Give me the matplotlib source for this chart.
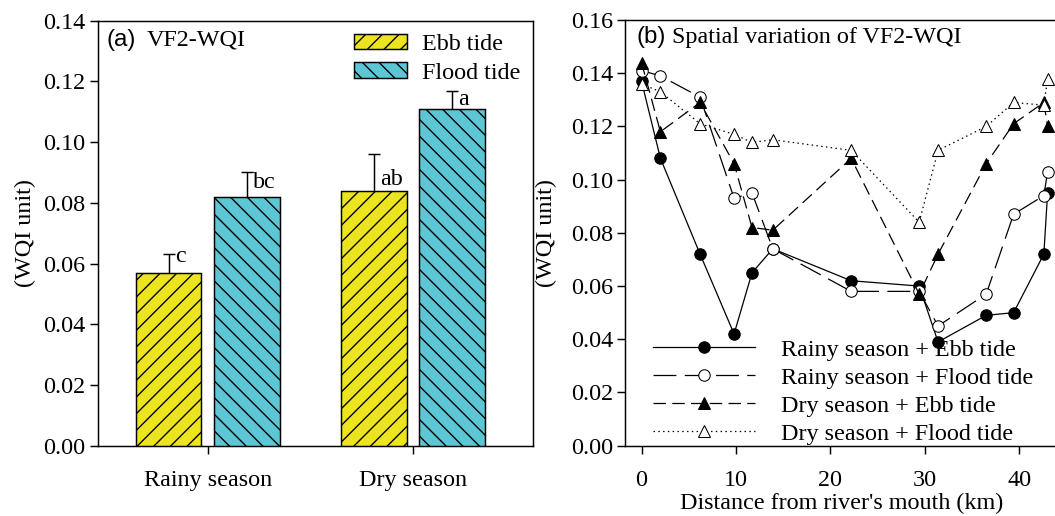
import matplotlib
matplotlib.use("Agg")
import matplotlib.pyplot as plt
from matplotlib.patches import Patch
import numpy as np

# ---------------- data ----------------
seasons = ["Rainy season", "Dry season"]
ebb_mean = [0.057, 0.084]
flood_mean = [0.082, 0.111]
ebb_err = [0.006, 0.012]
flood_err = [0.008, 0.006]
ebb_letters = ["c", "ab"]
flood_letters = ["bc", "a"]
ebb_letter_y = [0.0623, 0.0878]
flood_letter_y = [0.0866, 0.1142]

distance_km = [0, 2.0, 6.2, 9.8, 11.7, 13.9, 22.2, 29.4, 31.4, 36.5, 39.4, 42.6, 43.0]
rainy_ebb = [0.137, 0.108, 0.072, 0.042, 0.065, 0.074, 0.062, 0.060, 0.039, 0.049, 0.050, 0.072, 0.095]
rainy_flood = [0.141, 0.139, 0.131, 0.093, 0.095, 0.074, 0.058, 0.058, 0.045, 0.057, 0.087, 0.094, 0.103]
dry_ebb = [0.144, 0.118, 0.129, 0.106, 0.082, 0.081, 0.108, 0.057, 0.072, 0.106, 0.121, 0.129, 0.120]
dry_flood = [0.136, 0.133, 0.121, 0.117, 0.114, 0.115, 0.111, 0.084, 0.111, 0.120, 0.129, 0.128, 0.138]

# ---------------- style ----------------
DPI = 150
W, H = 1055, 516
plt.rcParams["font.family"] = ["Liberation Serif", "DejaVu Serif"]
plt.rcParams["font.size"] = 11.6
plt.rcParams["hatch.linewidth"] = 0.65
plt.rcParams["lines.scale_dashes"] = False
plt.rcParams["axes.linewidth"] = 0.7

YELLOW = "#ECE41F"
CYAN = "#5CC6D5"

fig = plt.figure(figsize=(W / DPI, H / DPI), dpi=DPI)


def fx(px):
    return px / W


def fy(py):
    return 1 - py / H


# ---------------- panel (a) ----------------
axa = fig.add_axes([fx(98.3), fy(445.7), fx(533.3 - 98.3), (445.7 - 20.7) / H])
xg = np.arange(len(seasons))
bw = 0.32
off = 0.19
axa.bar(xg - off, ebb_mean, bw, color=YELLOW, edgecolor="black", linewidth=0.7,
        hatch="///", zorder=3)
axa.bar(xg + off, flood_mean, bw, color=CYAN, edgecolor="black", linewidth=0.7,
        hatch="\\\\\\", zorder=3)
axa.errorbar(xg - off, ebb_mean, yerr=ebb_err, fmt="none", ecolor="black",
             elinewidth=0.7, capsize=2.7, capthick=0.7, zorder=2)
axa.errorbar(xg + off, flood_mean, yerr=flood_err, fmt="none", ecolor="black",
             elinewidth=0.7, capsize=2.7, capthick=0.7, zorder=2)
for i in range(len(seasons)):
    axa.text(xg[i] - off + 0.03, ebb_letter_y[i], ebb_letters[i], ha="left", va="center")
    axa.text(xg[i] + off + 0.03, flood_letter_y[i], flood_letters[i], ha="left", va="center")

axa.set_xlim(-0.532, 1.584)
axa.set_ylim(0, 0.14)
axa.set_xticks(xg)
axa.set_xticklabels(seasons)
ya = np.arange(0, 0.141, 0.02)
axa.set_yticks(ya)
axa.set_yticklabels([f"{v:.2f}" for v in ya])
axa.tick_params(axis="x", direction="out", length=3.8, width=0.7, pad=7.8)
axa.tick_params(axis="y", direction="out", length=3.8, width=0.7, pad=2.4)
axa.set_ylabel("(WQI unit)")
axa.yaxis.set_label_coords(-0.143, 0.5)

fig.text(fx(106.7), fy(40), "(a)", family=["Liberation Sans", "DejaVu Sans"], ha="left", va="center")
fig.text(fx(146.7), fy(40), "VF2-WQI", ha="left", va="center")

handles_a = [Patch(facecolor=YELLOW, edgecolor="black", hatch="///", linewidth=0.7),
             Patch(facecolor=CYAN, edgecolor="black", hatch="\\\\\\", linewidth=0.7)]
axa.legend(handles_a, ["Ebb tide", "Flood tide"], loc="upper left",
           bbox_to_anchor=(fx(354), fy(34)), bbox_transform=fig.transFigure,
           frameon=False, borderpad=0, borderaxespad=0,
           handlelength=2.2, handleheight=0.6, handletextpad=0.62,
           labelspacing=0.3)

# ---------------- panel (b) ----------------
axb = fig.add_axes([fx(625), fy(445.7), fx(1058 - 625), (445.7 - 20) / H])
axb.plot(distance_km, rainy_ebb, color="black", lw=0.6, ls="-",
         marker="o", ms=5.5, mfc="black", mec="black", mew=0.5,
         label="Rainy season + Ebb tide")
axb.plot(distance_km, rainy_flood, color="black", lw=0.6, ls=(0, (11, 4)),
         marker="o", ms=5.5, mfc="white", mec="black", mew=0.5,
         label="Rainy season + Flood tide")
axb.plot(distance_km, dry_ebb, color="black", lw=0.6, ls=(0, (6, 3)),
         marker="^", ms=5.6, mfc="black", mec="black", mew=0.5,
         label="Dry season + Ebb tide")
axb.plot(distance_km, dry_flood, color="black", lw=0.6, ls=(0, (0.7, 1.6)),
         marker="^", ms=5.6, mfc="white", mec="black", mew=0.5,
         label="Dry season + Flood tide")

axb.set_xlim(-1.75, 44.1)
axb.set_ylim(0, 0.16)
axb.set_xticks([0, 10, 20, 30, 40])
yt = np.arange(0, 0.161, 0.02)
axb.set_yticks(yt)
axb.set_yticklabels([f"{v:.2f}" for v in yt])
axb.tick_params(axis="x", direction="out", length=3.8, width=0.7, pad=7.8)
axb.tick_params(axis="y", direction="out", length=3.8, width=0.7, pad=2.0)
axb.set_xlabel("Distance from river's mouth (km)", labelpad=1.2)
axb.set_ylabel("(WQI unit)")
axb.yaxis.set_label_coords(-0.157, 0.5)

fig.text(fx(636), fy(37), "(b)", family=["Liberation Sans", "DejaVu Sans"], ha="left", va="center")
fig.text(fx(671.7), fy(37), "Spatial variation of VF2-WQI", ha="left", va="center")

axb.legend(loc="upper left", bbox_to_anchor=(fx(653), fy(339)),
           bbox_transform=fig.transFigure, frameon=False, borderpad=0,
           borderaxespad=0, handlelength=4.2, handletextpad=1.08,
           labelspacing=0.25, numpoints=1)

fig.savefig("out.png", dpi=DPI)
